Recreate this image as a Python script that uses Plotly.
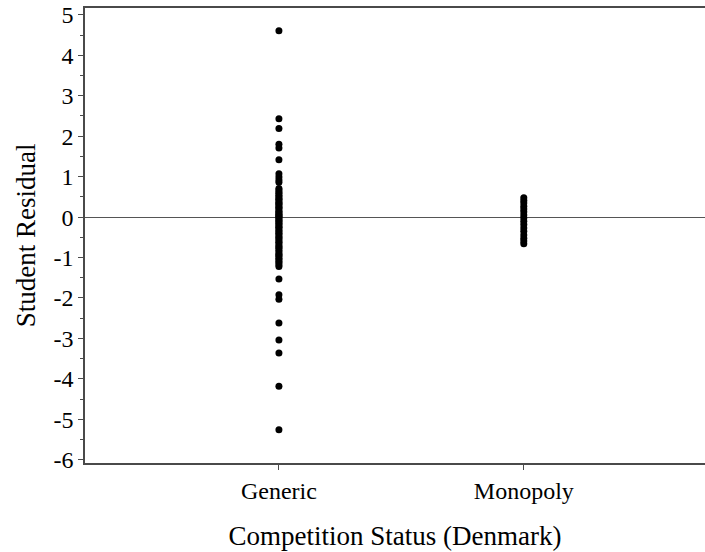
import plotly.graph_objects as go

# Competition status groups and their category positions on the x axis
categories = ["Generic", "Monopoly"]
category_pos = [1, 2]

# Studentized residuals per group
generic_resid = [
    4.61, 2.43, 2.19, 1.80, 1.71, 1.42, 1.07, 0.99, 0.92, 0.86,
    0.71, 0.67, 0.62, 0.59, 0.54, 0.51, 0.46, 0.44, 0.40, 0.36,
    0.33, 0.31, 0.26, 0.23, 0.21, 0.16, 0.13, 0.11, 0.07, 0.05,
    0.02, 0.00, -0.03, -0.07, -0.09, -0.12, -0.16, -0.18, -0.23, -0.25,
    -0.29, -0.33, -0.36, -0.40, -0.43, -0.48, -0.51, -0.54, -0.59, -0.62,
    -0.66, -0.71, -0.74, -0.77, -0.82, -0.86, -0.91, -0.94, -0.97, -1.02,
    -1.05, -1.10, -1.13, -1.18, -1.22,
    -1.53, -1.92, -2.03, -2.62, -3.04, -3.36, -4.18, -5.26,
]
monopoly_resid = [
    0.48, 0.41, 0.35, 0.27, 0.20, 0.13, 0.05, -0.02,
    -0.10, -0.18, -0.27, -0.35, -0.44, -0.52, -0.59, -0.66,
]

# Y tick values and their labels (plain hyphen for negatives)
y_ticks = list(range(-6, 6))
y_ticklabels = [str(v) for v in y_ticks]

FONT = "Liberation Serif"
AXIS_COLOR = "#4a4a4a"

fig = go.Figure()
for pos, vals in zip(category_pos, [generic_resid, monopoly_resid]):
    fig.add_trace(go.Scatter(
        x=[pos] * len(vals),
        y=vals,
        mode="markers",
        marker=dict(color="black", size=7, line=dict(width=0)),
        showlegend=False,
        hoverinfo="y",
    ))

fig.update_layout(
    width=705,
    height=552,
    margin=dict(l=85, r=0, t=8, b=89),
    plot_bgcolor="white",
    paper_bgcolor="white",
    font=dict(family=FONT, color="black", size=24),
    xaxis=dict(
        range=[0.208, 2.74],
        tickvals=category_pos,
        ticktext=categories,
        showgrid=False,
        zeroline=False,
        showline=True,
        mirror=True,
        linecolor=AXIS_COLOR,
        linewidth=1.5,
        ticks="outside",
        ticklen=5,
        tickwidth=1,
        tickcolor=AXIS_COLOR,
        tickfont=dict(family=FONT, size=24, color="black"),
        title=dict(text="Competition Status (Denmark)",
                   font=dict(family=FONT, size=27, color="black"),
                   standoff=24),
    ),
    yaxis=dict(
        range=[-6.08, 5.17],
        tickvals=y_ticks,
        ticktext=y_ticklabels,
        showgrid=False,
        zeroline=True,
        zerolinecolor="#555555",
        zerolinewidth=1,
        showline=True,
        mirror=False,
        linecolor=AXIS_COLOR,
        linewidth=1.5,
        ticks="outside",
        ticklen=5,
        tickwidth=1,
        tickcolor=AXIS_COLOR,
        tickfont=dict(family=FONT, size=24, color="black"),
        minor=dict(dtick=0.5, tick0=0, ticks="outside", ticklen=3,
                   tickcolor=AXIS_COLOR, showgrid=False),
        title=dict(text="Student Residual",
                   font=dict(family=FONT, size=27, color="black"),
                   standoff=10),
    ),
)

fig.write_html("out.html")
